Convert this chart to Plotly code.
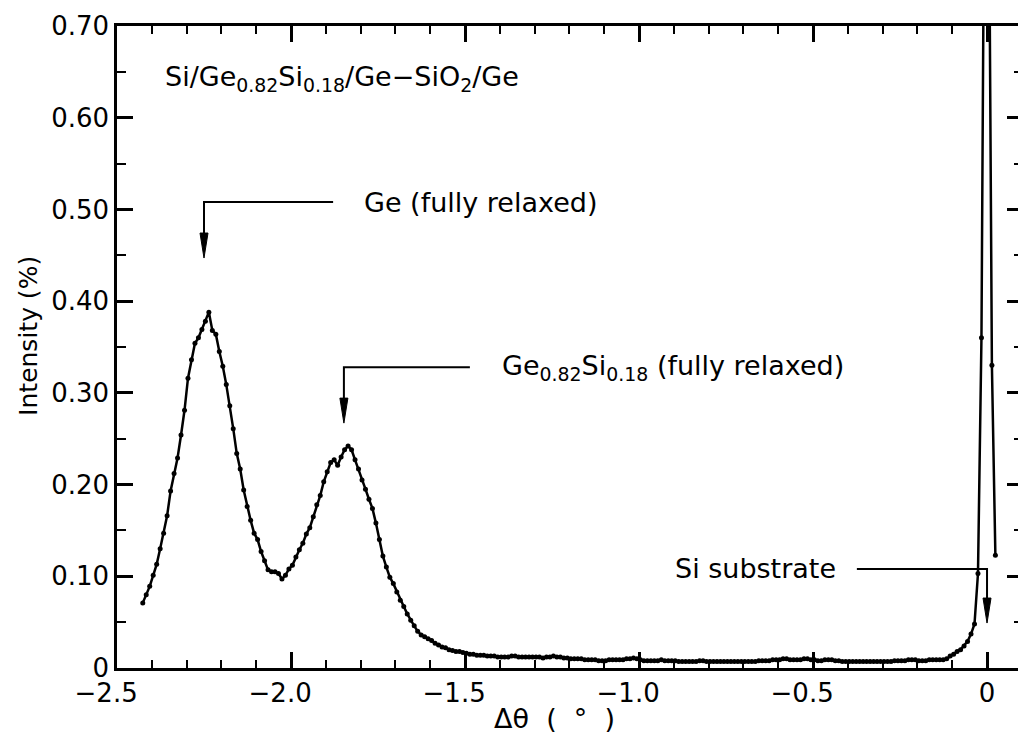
import plotly.graph_objects as go

# Double-crystal rocking curve: scan angle (deg) and diffracted intensity (%)
theta = [
    -2.426, -2.416, -2.406, -2.396, -2.386, -2.376, -2.366, -2.356, -2.346, -2.336,
    -2.326, -2.316, -2.306, -2.296, -2.286, -2.276, -2.266, -2.256, -2.246, -2.236,
    -2.226, -2.216, -2.206, -2.196, -2.186, -2.176, -2.166, -2.156, -2.146, -2.136,
    -2.126, -2.116, -2.106, -2.096, -2.086, -2.076, -2.066, -2.056, -2.046, -2.036,
    -2.026, -2.016, -2.006, -1.996, -1.986, -1.976, -1.966, -1.956, -1.946, -1.936,
    -1.926, -1.916, -1.906, -1.896, -1.886, -1.876, -1.866, -1.856, -1.846, -1.836,
    -1.826, -1.816, -1.806, -1.796, -1.786, -1.776, -1.766, -1.756, -1.746, -1.736,
    -1.726, -1.716, -1.706, -1.696, -1.686, -1.676, -1.666, -1.656, -1.646, -1.636,
    -1.626, -1.616, -1.606, -1.596, -1.586, -1.576, -1.566, -1.556, -1.546, -1.536,
    -1.526, -1.516, -1.506, -1.496, -1.486, -1.476, -1.466, -1.456, -1.446, -1.436,
    -1.426, -1.416, -1.406, -1.396, -1.386, -1.376, -1.366, -1.356, -1.346, -1.336,
    -1.326, -1.316, -1.306, -1.296, -1.286, -1.276, -1.266, -1.256, -1.246, -1.236,
    -1.226, -1.216, -1.206, -1.196, -1.186, -1.176, -1.166, -1.156, -1.146, -1.136,
    -1.126, -1.116, -1.106, -1.096, -1.086, -1.076, -1.066, -1.056, -1.046, -1.036,
    -1.026, -1.016, -1.006, -0.996, -0.986, -0.976, -0.966, -0.956, -0.946, -0.936,
    -0.926, -0.916, -0.906, -0.896, -0.886, -0.876, -0.866, -0.856, -0.846, -0.836,
    -0.826, -0.816, -0.806, -0.796, -0.786, -0.776, -0.766, -0.756, -0.746, -0.736,
    -0.726, -0.716, -0.706, -0.696, -0.686, -0.676, -0.666, -0.656, -0.646, -0.636,
    -0.626, -0.616, -0.606, -0.596, -0.586, -0.576, -0.566, -0.556, -0.546, -0.536,
    -0.526, -0.516, -0.506, -0.496, -0.486, -0.476, -0.466, -0.456, -0.446, -0.436,
    -0.426, -0.416, -0.406, -0.396, -0.386, -0.376, -0.366, -0.356, -0.346, -0.336,
    -0.326, -0.316, -0.306, -0.296, -0.286, -0.276, -0.266, -0.256, -0.246, -0.236,
    -0.226, -0.216, -0.206, -0.196, -0.186, -0.176, -0.166, -0.156, -0.146, -0.136,
    -0.126, -0.116, -0.106, -0.096, -0.086, -0.076, -0.066, -0.056, -0.046, -0.036,
    -0.026, -0.016, -0.006, 0.004, 0.014, 0.024,
]

intensity = [
    0.071, 0.080, 0.089, 0.101, 0.113, 0.130, 0.147, 0.166, 0.193, 0.212,
    0.229, 0.254, 0.281, 0.316, 0.336, 0.354, 0.360, 0.369, 0.378, 0.388,
    0.368, 0.364, 0.345, 0.329, 0.309, 0.286, 0.261, 0.234, 0.217, 0.194,
    0.176, 0.161, 0.147, 0.140, 0.127, 0.117, 0.107, 0.105, 0.105, 0.103,
    0.097, 0.101, 0.108, 0.112, 0.121, 0.129, 0.136, 0.146, 0.153, 0.165,
    0.178, 0.188, 0.203, 0.214, 0.224, 0.227, 0.221, 0.230, 0.238, 0.242,
    0.238, 0.227, 0.217, 0.205, 0.195, 0.184, 0.174, 0.158, 0.140, 0.122,
    0.110, 0.099, 0.092, 0.083, 0.074, 0.067, 0.059, 0.052, 0.046, 0.040,
    0.036, 0.034, 0.032, 0.030, 0.027, 0.025, 0.023, 0.022, 0.020, 0.019,
    0.018, 0.018, 0.017, 0.016, 0.015, 0.015, 0.014, 0.014, 0.014, 0.013,
    0.013, 0.013, 0.012, 0.012, 0.012, 0.012, 0.013, 0.013, 0.012, 0.012,
    0.012, 0.012, 0.012, 0.012, 0.012, 0.011, 0.012, 0.012, 0.013, 0.012,
    0.012, 0.011, 0.011, 0.010, 0.010, 0.010, 0.010, 0.009, 0.009, 0.009,
    0.009, 0.008, 0.008, 0.008, 0.009, 0.009, 0.009, 0.009, 0.009, 0.010,
    0.010, 0.011, 0.010, 0.009, 0.008, 0.008, 0.008, 0.008, 0.008, 0.009,
    0.008, 0.008, 0.008, 0.008, 0.007, 0.007, 0.007, 0.007, 0.007, 0.007,
    0.008, 0.008, 0.007, 0.007, 0.007, 0.007, 0.007, 0.007, 0.007, 0.007,
    0.007, 0.007, 0.007, 0.007, 0.007, 0.007, 0.007, 0.008, 0.008, 0.008,
    0.008, 0.009, 0.009, 0.009, 0.010, 0.010, 0.009, 0.009, 0.009, 0.009,
    0.010, 0.010, 0.009, 0.009, 0.008, 0.008, 0.009, 0.009, 0.009, 0.008,
    0.008, 0.007, 0.007, 0.007, 0.007, 0.007, 0.007, 0.007, 0.007, 0.007,
    0.007, 0.007, 0.007, 0.007, 0.007, 0.007, 0.008, 0.008, 0.008, 0.008,
    0.009, 0.009, 0.009, 0.008, 0.008, 0.008, 0.009, 0.009, 0.009, 0.009,
    0.009, 0.010, 0.013, 0.015, 0.018, 0.020, 0.024, 0.029, 0.037, 0.048,
    0.103, 0.360, 1.000, 0.950, 0.330, 0.123,
]

# Axis ticks
x_tickvals = [-2.5, -2.0, -1.5, -1.0, -0.5, 0.0]
x_ticktext = ["\u22122.5", "\u22122.0", "\u22121.5", "\u22121.0", "\u22120.5", "0"]
y_tickvals = [0.0, 0.1, 0.2, 0.3, 0.4, 0.5, 0.6, 0.7]
y_ticktext = ["0", "0.10", "0.20", "0.30", "0.40", "0.50", "0.60", "0.70"]

# Peak labels: (text, text x, elbow x, arrow x, level y, arrow tip y)
peak_labels = [
    ("Ge (fully relaxed)", -1.796, -1.879, -2.250, 0.508, 0.447),
    ("Ge<sub>0.82</sub>Si<sub>0.18</sub> (fully relaxed)", -1.399, -1.486, -1.848, 0.328, 0.267),
    ("Si substrate", -0.902, -0.374, 0.0, 0.108, 0.049),
]
sample_label = "Si/Ge<sub>0.82</sub>Si<sub>0.18</sub>/Ge\u2212SiO<sub>2</sub>/Ge"

nb = "\u00a0"
x_title = f"\u0394\u03b8{nb}{nb}({nb}{nb}\u00b0{nb}{nb})"
y_title = "Intensity (%)"

FONT = "DejaVu Sans"
pad = "\u2007\u2009"  # keeps the digits centred under the tick

fig = go.Figure()
fig.add_trace(go.Scatter(
    x=theta, y=intensity, mode="lines+markers",
    line=dict(color="black", width=2.5),
    marker=dict(size=5, color="black"),
    showlegend=False, hoverinfo="x+y",
))
# empty series that only carries the right-hand tick axis
fig.add_trace(go.Scatter(x=[None], y=[None], yaxis="y2", mode="lines",
                         showlegend=False, hoverinfo="skip"))

shapes = []
annotations = []
for text, tx, ex, ax, ly, tip in peak_labels:
    # elbow leader: horizontal run, then vertical drop to the arrowhead
    shapes.append(dict(
        type="path", xref="x", yref="y",
        path=f"M {ex},{ly} L {ax},{ly} L {ax},{tip + 0.02}",
        line=dict(color="black", width=2),
    ))
    # narrow filled arrowhead, sized in pixels
    shapes.append(dict(
        type="path", xref="x", yref="y",
        xsizemode="pixel", ysizemode="pixel", xanchor=ax, yanchor=tip,
        path="M -4,25 L 4,25 L 0,0 Z",
        fillcolor="black", line=dict(color="black", width=1),
    ))
    annotations.append(dict(
        x=tx, y=ly, xref="x", yref="y", text=text, showarrow=False,
        xanchor="left", yanchor="middle",
        font=dict(family=FONT, size=27, color="black"),
    ))

annotations.append(dict(
    x=-2.368, y=0.643, xref="x", yref="y", text=sample_label, showarrow=False,
    xanchor="left", yanchor="middle",
    font=dict(family=FONT, size=27, color="black"),
))
# axis titles
annotations.append(dict(
    x=0.486, y=-0.078, xref="paper", yref="paper", text=x_title, showarrow=False,
    xanchor="center", yanchor="middle",
    font=dict(family=FONT, size=27, color="black"),
))
annotations.append(dict(
    x=-0.099, y=0.517, xref="paper", yref="paper", text=y_title, showarrow=False,
    xanchor="center", yanchor="middle", textangle=-90,
    font=dict(family=FONT, size=25, color="black"),
))

fig.update_layout(
    width=1018, height=738,
    margin=dict(l=117, r=0, t=26, b=70),
    paper_bgcolor="white", plot_bgcolor="white",
    font=dict(family=FONT, color="black"),
    shapes=shapes, annotations=annotations,
    xaxis=dict(
        range=[-2.5, 0.089],
        tickvals=x_tickvals,
        ticktext=[t + pad if t.startswith("\u2212") else t for t in x_ticktext],
        ticks="inside", ticklen=16, tickwidth=2.5, tickcolor="black",
        minor=dict(dtick=0.1, tick0=0, ticks="inside", ticklen=8, tickwidth=2, tickcolor="black"),
        showline=True, linewidth=2.5, linecolor="black", mirror="ticks",
        showgrid=False, zeroline=False,
        tickfont=dict(family=FONT, size=26, color="black"),
    ),
    yaxis=dict(
        range=[0, 0.70],
        tickvals=y_tickvals, ticktext=y_ticktext,
        ticks="inside", ticklen=16, tickwidth=2.5, tickcolor="black",
        minor=dict(dtick=0.05, tick0=0, ticks="inside", ticklen=9, tickwidth=2, tickcolor="black"),
        showline=True, linewidth=2.5, linecolor="black", mirror=False,
        showgrid=False, zeroline=False,
        tickfont=dict(family=FONT, size=26, color="black"),
    ),
    yaxis2=dict(
        overlaying="y", side="right", range=[0, 0.70],
        tickvals=y_tickvals, showticklabels=False,
        ticks="inside", ticklen=11, tickwidth=2.5, tickcolor="black",
        minor=dict(dtick=0.05, tick0=0, ticks="inside", ticklen=4, tickwidth=2, tickcolor="black"),
        showline=False, showgrid=False, zeroline=False,
    ),
)

fig.write_html("out.html")
